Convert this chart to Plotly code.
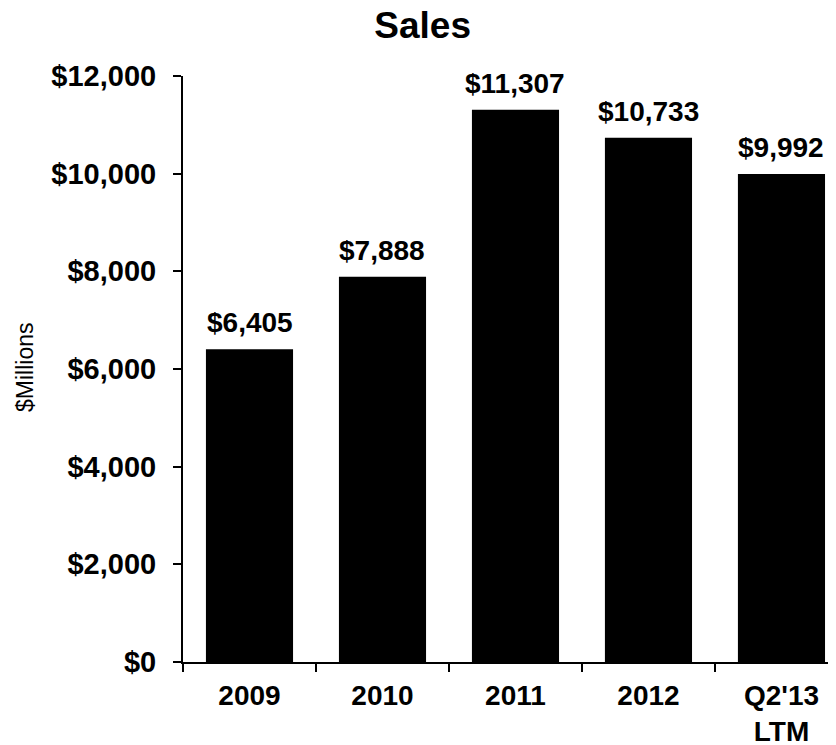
import plotly.graph_objects as go

categories = ["2009", "2010", "2011", "2012", "Q2'13<br>LTM"]
sales = [6405, 7888, 11307, 10733, 9992]
labels = ["$6,405", "$7,888", "$11,307", "$10,733", "$9,992"]
ytick_vals = [0, 2000, 4000, 6000, 8000, 10000, 12000]
ytick_text = ["$0", "$2,000", "$4,000", "$6,000", "$8,000", "$10,000", "$12,000"]

FONT = "Liberation Sans, Arial, sans-serif"

L, R, T, B = 175, 8, 68, 91
W, H = 836, 745
PW, PH = W - L - R, H - T - B

fig = go.Figure(go.Bar(
    x=categories, y=sales,
    marker=dict(color="black", line=dict(width=0)),
    width=0.655,
))

annotations = [
    dict(x=i, y=v, text=t, xref="x", yref="y", showarrow=False,
         xanchor="center", yanchor="bottom", yshift=9,
         font=dict(family=FONT, size=28, color="black", weight="bold"))
    for i, (v, t) in enumerate(zip(sales, labels))
]
annotations.append(dict(
    text="$Millions", textangle=-90,
    x=(17 - L) / PW, y=(H - B - 360) / PH,
    xref="paper", yref="paper", xanchor="center", yanchor="middle",
    showarrow=False, font=dict(family=FONT, size=23, color="black")))

fig.update_layout(
    width=W, height=H,
    margin=dict(l=L, r=R, t=T, b=B),
    paper_bgcolor="white", plot_bgcolor="white",
    showlegend=False,
    title=dict(text="<b>Sales</b>", x=0.496, xref="container", xanchor="center",
               y=1 - 17 / H, yref="container", yanchor="middle",
               font=dict(family=FONT, size=37, color="black")),
    annotations=annotations,
)
fig.update_xaxes(
    range=[-0.5, 4.41], showline=True, linecolor="black", linewidth=2,
    ticks="outside", tickson="boundaries", ticklen=8, tickwidth=2, tickcolor="black",
    tickfont=dict(family=FONT, size=28, color="black", weight="bold"),
    ticklabelstandoff=7, automargin=False,
    showgrid=False,
)
fig.update_yaxes(
    range=[0, 12000], tickvals=ytick_vals, ticktext=ytick_text,
    showline=True, linecolor="black", linewidth=2,
    ticks="outside", ticklen=8, tickwidth=2, tickcolor="black",
    tickfont=dict(family=FONT, size=29, color="black", weight="bold"),
    ticklabelstandoff=11, automargin=False,
    showgrid=False, zeroline=False,
)

fig.write_html("out.html")
